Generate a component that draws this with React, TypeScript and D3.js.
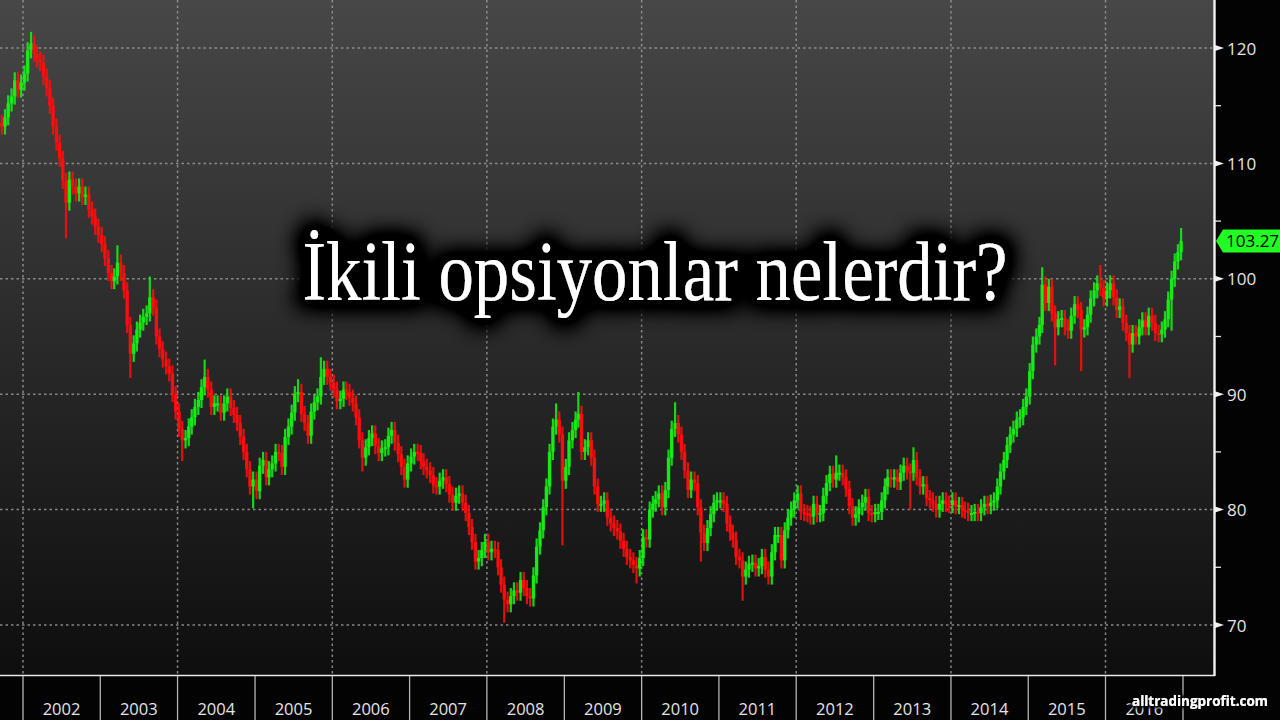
import React from "react";
import * as d3 from "d3";

// Half-monthly closes (Sep 2001 .. Dec 2016)
const closes2001 = [113.5, 113.2, 114, 115.2, 115.8, 117.2, 116.4, 117];
const closes2002 = [117.8, 119.8, 120.4, 119.5, 119, 118.7, 117.5, 116.5, 115, 113.2, 111.8, 110.4, 108.5, 106.6, 108.6, 108, 107.4, 108, 107.1, 107.3, 106, 105.4, 104.5, 103.8];
const closes2003 = [103, 101.8, 100.5, 99.8, 100.2, 101.4, 100.5, 99, 96, 93.5, 94.4, 95.6, 96.2, 96.7, 97, 98.4, 97.5, 95, 93.9, 93, 92.4, 91.8, 90, 88.5];
const closes2004 = [87, 86, 86.2, 87.2, 88, 88.9, 89.5, 90.6, 91.5, 90.4, 88.9, 89.2, 89.2, 88.4, 89.2, 89.8, 88.8, 88.2, 87.5, 86.3, 85, 83.5, 82, 82.6];
const closes2005 = [81.6, 83.8, 84.3, 82.8, 83.5, 84, 85, 84.9, 83.7, 86.3, 87.2, 88.4, 90, 90.2, 88.3, 87.5, 86.4, 88.5, 89.3, 89.8, 91.5, 92.2, 91.5, 91];
const closes2006 = [90.4, 89.4, 89.6, 90.4, 90.2, 89.7, 89.2, 88, 86, 84.5, 85.4, 86.2, 86.6, 85.5, 84.9, 85.3, 85.4, 86.4, 86.9, 85.8, 84.8, 83.7, 82.6, 84];
const closes2007 = [84.6, 85, 84.9, 84.2, 83.7, 83.4, 83, 82.1, 82, 82.5, 82.8, 82.2, 81.3, 80.6, 81.2, 81.4, 80.6, 79.7, 78.5, 77.2, 75.5, 75.8, 76.5, 77.2];
const closes2008 = [76.3, 76.6, 76.5, 75, 73.5, 72.2, 71.8, 72.5, 73, 72.8, 73.9, 73.2, 72.5, 72.3, 74.3, 76.8, 78.2, 80.2, 82, 85, 87.2, 87.8, 86.5, 82.5];
const closes2009 = [83.7, 86, 86.9, 87.8, 88.3, 85, 85.4, 86, 84.5, 82, 80.5, 80.5, 80.8, 79.3, 78.8, 78.4, 78.1, 77.3, 76.6, 75.9, 75.6, 75.2, 74.9, 75.8];
const closes2010 = [77.6, 77.4, 80, 80.5, 80.9, 81.4, 80.2, 81.7, 84.5, 87, 87.5, 86.5, 85, 83.4, 81.7, 82.6, 82.3, 80.2, 78, 77.1, 78.4, 79.6, 80.6, 80.8];
const closes2011 = [80.8, 80.5, 78.8, 78, 77.4, 75.9, 75.6, 74.2, 74.8, 75.3, 75.4, 74.9, 75.1, 75.9, 74.8, 74.2, 76.3, 77.8, 77.8, 75.6, 78.2, 79.3, 80, 80.8];
const closes2012 = [81.4, 79.8, 79.7, 79.6, 79.4, 80.5, 79.6, 79.7, 81.2, 82.3, 83.1, 82.6, 83.2, 83.2, 82.8, 81.8, 80.3, 79.3, 79.6, 80.2, 80.6, 81.1, 79.7, 79.6];
const closes2013 = [79.8, 79.8, 80.8, 82, 82.8, 82.6, 82.8, 82.4, 83.2, 83.8, 83.3, 83.2, 84.3, 82.8, 82, 82.2, 81, 80.8, 80.5, 80, 80.5, 80.8, 80.5, 80.4];
const closes2014 = [80.8, 80.3, 80.4, 80, 79.9, 79.7, 79.7, 79.8, 79.7, 80.2, 80.5, 80.3, 80.6, 80.8, 82, 83.3, 84.3, 85.6, 86.5, 87, 87.8, 88, 88.9, 89.8];
const closes2015 = [92, 94.3, 95, 96, 99.5, 97.9, 99.3, 97, 95.8, 96.5, 96.6, 95.8, 95.5, 96.8, 97.8, 97.3, 95.6, 95.8, 96.9, 98.3, 99, 99.6, 99.2, 98.3];
const closes2016 = [99, 99.6, 98.4, 97.3, 97.6, 96.2, 95.3, 94.3, 95.3, 95, 95.8, 96.4, 95.8, 96.8, 96.2, 95.3, 95.2, 95.6, 96.5, 98.2, 100, 101.5, 102.3, 103.27];

// Notable wick extremes: [bar index, value]
const wickHighs: [number, number][] = [
  [10, 120.7], [37, 102.2], [47, 99.5], [64, 92.3], [93, 90.6], [100, 92.5],
  [173, 88.5], [180, 89.5], [210, 88.6], [260, 84], [284, 84.7], [324, 100.3],
  [342, 100.5], [367, 103.7],
];
const wickLows: [number, number][] = [
  [21, 104.2], [41, 92.1], [57, 84.9], [79, 80.8], [113, 84], [157, 70.9],
  [175, 77.6], [198, 74.3], [218, 76.2], [231, 72.8], [283, 80.7], [328, 93.2],
  [336, 92.7], [351, 92.1], [364, 96.2],
];

const yTicks = [70, 80, 90, 100, 110, 120];
const yMinorTicks = [75, 85, 95, 105, 115];
const years = [2002, 2003, 2004, 2005, 2006, 2007, 2008, 2009, 2010, 2011, 2012, 2013, 2014, 2015, 2016];
const gridYears = [2002, 2004, 2006, 2008, 2010, 2012, 2014, 2016];
const lastPrice = 103.27;
const title = "İkili opsiyonlar nelerdir?";
const watermark = "alltradingprofit.com";

const W = 1280;
const H = 720;
const PLOT_R = 1214;
const PLOT_B = 675;

export default function App() {
  const closes = [
    ...closes2001, ...closes2002, ...closes2003, ...closes2004, ...closes2005,
    ...closes2006, ...closes2007, ...closes2008, ...closes2009, ...closes2010,
    ...closes2011, ...closes2012, ...closes2013, ...closes2014, ...closes2015, ...closes2016,
  ];
  const x = d3.scaleTime().domain([new Date(2002, 0, 1), new Date(2017, 0, 1)]).range([23, 1183]);
  const y = d3.scaleLinear().domain([70, 120]).range([625, 48]);

  const hiMap = new Map(wickHighs);
  const loMap = new Map(wickLows);
  const pad = 0.7;

  const bars = closes.map((c, i) => {
    const date = new Date(2001, 8 + Math.floor(i / 2), i % 2 === 0 ? 8 : 23);
    const o = i === 0 ? c : closes[i - 1];
    const hi = Math.max(o, c, hiMap.get(i) ?? -Infinity) + pad;
    const lo = Math.min(o, c, loMap.get(i) ?? Infinity) - pad;
    return { date, o, c, hi, lo, up: c >= o };
  });

  const green = "#16f016";
  const red = "#ff0d0d";

  return (
    <svg width={W} height={H} style={{ position: "fixed", left: 0, top: 0, display: "block" }}>
      <defs>
        <linearGradient id="bg" x1="0" y1="0" x2="0" y2="1">
          <stop offset="0%" stopColor="#474747" />
          <stop offset="50%" stopColor="#2a2a2a" />
          <stop offset="100%" stopColor="#0e0e0e" />
        </linearGradient>
        <clipPath id="plotClip">
          <rect x={0} y={0} width={PLOT_R} height={PLOT_B} />
        </clipPath>
        <filter id="halo" x="-15%" y="-80%" width="130%" height="260%">
          <feMorphology in="SourceAlpha" operator="dilate" radius="8" result="d" />
          <feGaussianBlur in="d" stdDeviation="11" result="b" />
          <feComponentTransfer in="b" result="b2">
            <feFuncA type="linear" slope="2" />
          </feComponentTransfer>
          <feFlood floodColor="#000" />
          <feComposite in2="b2" operator="in" result="shadow" />
          <feMerge>
            <feMergeNode in="shadow" />
            <feMergeNode in="SourceGraphic" />
          </feMerge>
        </filter>
        <filter id="wm" x="-10%" y="-50%" width="120%" height="200%">
          <feMorphology in="SourceAlpha" operator="dilate" radius="1.5" result="d" />
          <feGaussianBlur in="d" stdDeviation="1.5" result="b" />
          <feFlood floodColor="#000" />
          <feComposite in2="b" operator="in" result="s" />
          <feMerge>
            <feMergeNode in="s" />
            <feMergeNode in="SourceGraphic" />
          </feMerge>
        </filter>
      </defs>

      <rect x={0} y={0} width={W} height={H} fill="#030303" />
      <rect x={0} y={0} width={PLOT_R} height={PLOT_B} fill="url(#bg)" />

      {/* grid */}
      <g stroke="#9a9a9a" strokeWidth={1.5} strokeDasharray="2.5 3" opacity={0.85}>
        {yTicks.map((t) => (
          <line key={"gy" + t} x1={0} x2={PLOT_R} y1={y(t)} y2={y(t)} />
        ))}
        {gridYears.map((yr) => (
          <line key={"gx" + yr} x1={x(new Date(yr, 0, 1))} x2={x(new Date(yr, 0, 1))} y1={0} y2={PLOT_B} />
        ))}
      </g>

      {/* candles */}
      <g clipPath="url(#plotClip)">
        {bars.map((b, i) => {
          const cx = x(b.date);
          const col = b.up ? green : red;
          const top = y(Math.max(b.o, b.c));
          const bot = y(Math.min(b.o, b.c));
          return (
            <g key={i}>
              <line x1={cx} x2={cx} y1={y(b.hi)} y2={y(b.lo)} stroke={col} strokeWidth={2.2} opacity={0.88} />
              <rect x={cx - 1.7} y={top} width={3.4} height={Math.max(bot - top, 2)} fill={col} opacity={0.92} />
            </g>
          );
        })}
      </g>

      {/* axes frame */}
      <line x1={0} x2={PLOT_R + 1} y1={PLOT_B + 0.5} y2={PLOT_B + 0.5} stroke="#e8e8e8" strokeWidth={1.6} />
      <line x1={PLOT_R + 0.5} x2={PLOT_R + 0.5} y1={0} y2={PLOT_B + 1} stroke="#f2f2f2" strokeWidth={2.4} />

      {/* x axis ticks & labels */}
      <g>
        {[...years, 2017].map((yr) => (
          <line key={"xt" + yr} x1={x(new Date(yr, 0, 1))} x2={x(new Date(yr, 0, 1))} y1={PLOT_B + 1} y2={H} stroke="#b5b5b5" strokeWidth={1.3} />
        ))}
        {years.map((yr) => (
          <text key={"xl" + yr} x={x(new Date(yr, 6, 2))} y={715} textAnchor="middle" fontFamily="'Open Sans', sans-serif" fontSize={16.5} fill="#e4e4e4">
            {yr}
          </text>
        ))}
      </g>

      {/* y axis ticks & labels */}
      <g>
        {yMinorTicks.map((t) => (
          <line key={"ym" + t} x1={PLOT_R + 1} x2={PLOT_R + 7} y1={y(t)} y2={y(t)} stroke="#e8e8e8" strokeWidth={1.3} />
        ))}
        {yTicks.map((t) => (
          <g key={"yt" + t}>
            <path d={`M${PLOT_R + 1},${y(t) - 3} L${PLOT_R + 10},${y(t)} L${PLOT_R + 1},${y(t) + 3} Z`} fill="#f0f0f0" />
            <text x={1227} y={y(t) + 6.5} fontFamily="'Open Sans', sans-serif" fontSize={17} fill="#e4e4e4">
              {t}
            </text>
          </g>
        ))}
      </g>

      {/* last price flag */}
      <g>
        <path
          d={`M${PLOT_R + 2},${y(lastPrice)} L${PLOT_R + 9},${y(lastPrice) - 11.5} L${W},${y(lastPrice) - 11.5} L${W},${y(lastPrice) + 11.5} L${PLOT_R + 9},${y(lastPrice) + 11.5} Z`}
          fill="#22ff22"
        />
        <text x={1226} y={y(lastPrice) + 6} fontFamily="'Open Sans', sans-serif" fontSize={17} fill="#000">
          {lastPrice.toFixed(2)}
        </text>
      </g>

      {/* title overlay */}
      <text
        x={655}
        y={300}
        textAnchor="middle"
        fontFamily="'Liberation Serif', 'DejaVu Serif', serif"
        fontSize={84}
        fill="#ffffff"
        textLength={705}
        lengthAdjust="spacingAndGlyphs"
        filter="url(#halo)"
      >
        {title}
      </text>

      {/* watermark */}
      <text
        x={1200}
        y={706}
        textAnchor="middle"
        fontFamily="'Open Sans', sans-serif"
        fontWeight={700}
        fontSize={14}
        fill="#ffffff"
        textLength={136}
        lengthAdjust="spacingAndGlyphs"
        filter="url(#wm)"
      >
        {watermark}
      </text>
    </svg>
  );
}
